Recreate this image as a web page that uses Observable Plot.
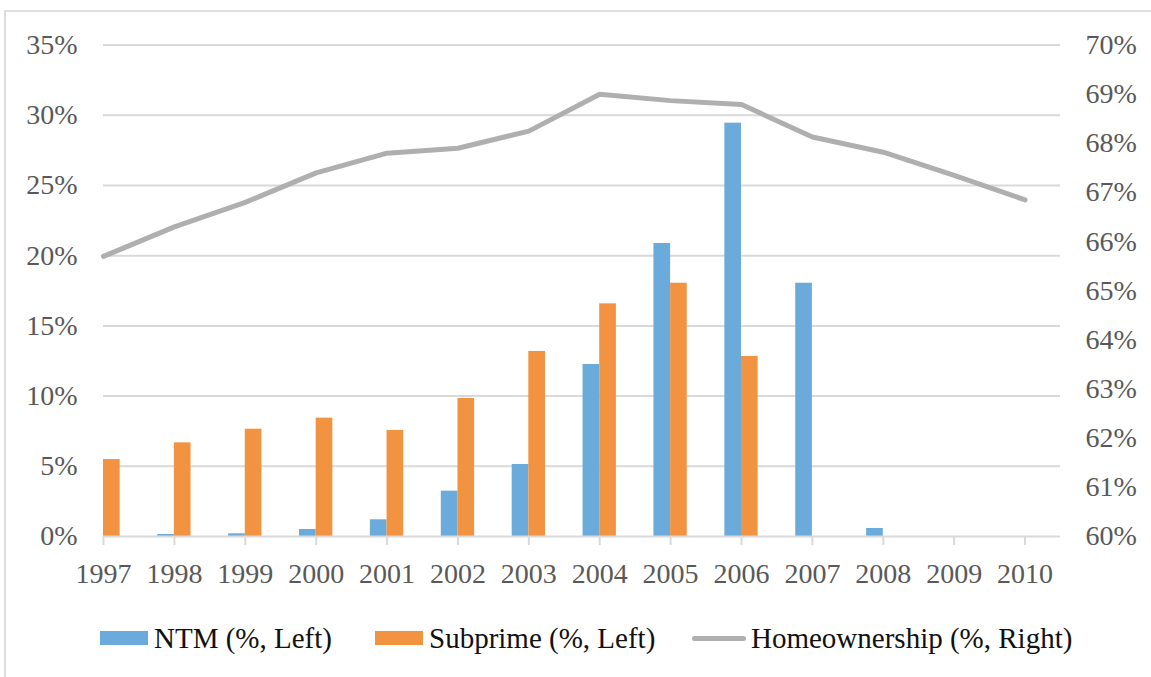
<!DOCTYPE html>
<html>
<head>
<meta charset="utf-8">
<script src="https://cdn.jsdelivr.net/npm/d3@7"></script>
<script src="https://cdn.jsdelivr.net/npm/@observablehq/plot@0.6"></script>
<style>
  body { margin: 0; background: #fff; }
  #wrap { position: relative; width: 1151px; height: 677px; overflow: hidden; font-family: "Liberation Serif", "Times New Roman", serif; }
  #frame { position: absolute; left: 4px; top: 10px; width: 1200px; height: 700px; border-top: 2px solid #dedede; border-left: 2px solid #dedede; }
  #chart { position: absolute; left: 0; top: 0; }
  #chart svg, #chart svg text { font-family: "Liberation Serif", "Times New Roman", serif !important; font-variant: normal !important; }
  #legend { position: absolute; top: 618px; left: 0; width: 1151px; height: 40px; font-size: 29px; color: #111; }
  .item { position: absolute; top: 0; height: 40px; display: flex; align-items: center; white-space: nowrap; }
  .sw { display: inline-block; width: 48px; height: 14px; margin-right: 6px; }
  .ln { display: inline-block; width: 54px; height: 5px; border-radius: 3px; margin-right: 5px; }
</style>
</head>
<body>
<div id="wrap">
  <div id="frame"></div>
  <div id="chart"></div>
  <div id="legend"></div>
</div>
<script>
const years = [1997, 1998, 1999, 2000, 2001, 2002, 2003, 2004, 2005, 2006, 2007, 2008, 2009, 2010];
const ntm = [0, 0.14, 0.19, 0.5, 1.19, 3.23, 5.13, 12.25, 20.87, 29.44, 18.04, 0.57, 0, 0];
const subprime = [5.48, 6.67, 7.64, 8.43, 7.55, 9.83, 13.18, 16.57, 18.04, 12.82, 0, 0, 0, 0];
const homeownership = [65.7, 66.3, 66.8, 67.4, 67.8, 67.9, 68.25, 69.0, 68.87, 68.79, 68.13, 67.82, 67.35, 66.85];
const leftTicks = [0, 5, 10, 15, 20, 25, 30, 35];
const rightTicks = [60, 61, 62, 63, 64, 65, 66, 67, 68, 69, 70];
const seriesNames = ["NTM (%, Left)", "Subprime (%, Left)", "Homeownership (%, Right)"];
const colors = ["#6aabdc", "#f29341", "#afafaf"];

// right axis (60%..70%) mapped onto left axis units (0..35)
const rightMin = 60, rightMax = 70, leftMax = 35;
const toLeft = v => (v - rightMin) / (rightMax - rightMin) * leftMax;
const barW = 0.235;

const ntmData = years.map((y, i) => ({year: y, v: ntm[i]})).filter(d => d.v > 0);
const subData = years.map((y, i) => ({year: y, v: subprime[i]})).filter(d => d.v > 0);
const homeData = years.map((y, i) => ({year: y, v: toLeft(homeownership[i])}));

const chart = Plot.plot({
  width: 1151,
  height: 600,
  marginLeft: 103,
  marginRight: 91,
  marginTop: 44.6,
  marginBottom: 64,
  style: {fontFamily: "Liberation Serif, Times New Roman, serif", fontSize: "28px", color: "#595959", background: "transparent"},
  x: {domain: [1997, 2010.5]},
  y: {domain: [0, leftMax]},
  marks: [
    Plot.ruleY(leftTicks.filter(t => t > 0), {stroke: "#d9d9d9", strokeWidth: 2}),
    Plot.rectY(ntmData, {x1: d => d.year - barW, x2: d => d.year, y1: 0, y2: "v", fill: colors[0], clip: true}),
    Plot.rectY(subData, {x1: d => d.year, x2: d => d.year + barW, y1: 0, y2: "v", fill: colors[1], clip: true}),
    Plot.ruleY([0], {stroke: "#d9d9d9", strokeWidth: 2}),
    Plot.axisX({ticks: years, tickFormat: d3.format("d"), tickSize: 9, tickPadding: 18, stroke: "#d9d9d9", strokeWidth: 2, label: null}),
    Plot.axisY({anchor: "left", ticks: leftTicks, tickFormat: d => d + "%", tickSize: 0, tickPadding: 26, label: null}),
    Plot.axisY({anchor: "right", ticks: rightTicks.map(toLeft), tickFormat: d => Math.round(rightMin + d / leftMax * (rightMax - rightMin)) + "%", tickSize: 0, tickPadding: 25, label: null}),
    Plot.line(homeData, {x: "year", y: "v", stroke: colors[2], strokeWidth: 5, strokeLinecap: "round", strokeLinejoin: "round"})
  ]
});
document.getElementById("chart").appendChild(chart);

const legend = document.getElementById("legend");
const lefts = [100, 375, 692];
seriesNames.forEach((name, i) => {
  const it = document.createElement("div");
  it.className = "item";
  it.style.left = lefts[i] + "px";
  const sw = document.createElement("span");
  sw.className = i < 2 ? "sw" : "ln";
  sw.style.background = colors[i];
  it.appendChild(sw);
  const t = document.createElement("span");
  t.textContent = name;
  it.appendChild(t);
  legend.appendChild(it);
});
</script>
</body>
</html>
